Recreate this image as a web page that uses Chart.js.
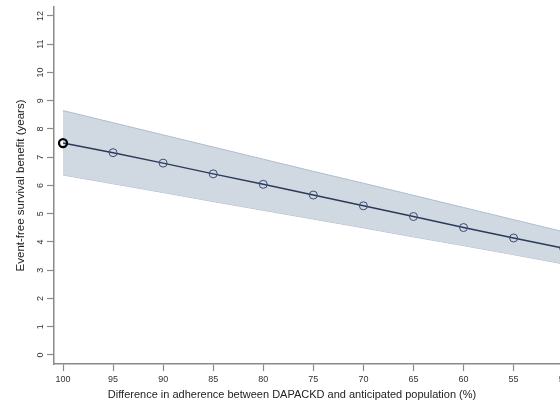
<!DOCTYPE html>
<html>
<head>
<meta charset="utf-8">
<script src="https://cdn.jsdelivr.net/npm/chart.js@4/dist/chart.umd.min.js"></script>
<style>
    html, body { margin: 0; padding: 0; background: #fff; overflow: hidden; }
    #wrap { width: 600px; height: 406px; }
</style>
</head>
<body>
<div id="wrap"><canvas id="chart" width="600" height="406"></canvas></div>
<script>
// adherence difference (%), x axis runs from 100 down to 50
const adherence = [100, 95, 90, 85, 80, 75, 70, 65, 60, 55, 50];
const benefit = [7.50, 7.16, 6.79, 6.41, 6.04, 5.66, 5.28, 4.90, 4.51, 4.14, 3.78];
const upperCI = [8.65, 8.22, 7.79, 7.36, 6.93, 6.50, 6.08, 5.65, 5.22, 4.79, 4.36];
const lowerCI = [6.37, 6.06, 5.75, 5.43, 5.12, 4.81, 4.50, 4.18, 3.87, 3.55, 3.22];

const xTicks = [100, 95, 90, 85, 80, 75, 70, 65, 60, 55, 50];
const yTicks = [0, 1, 2, 3, 4, 5, 6, 7, 8, 9, 10, 11, 12];

const xTitle = 'Difference in adherence between DAPACKD and anticipated population (%)';
const yTitle = 'Event-free survival benefit (years)';

const toPoints = (vals) => adherence.map((x, i) => ({x: x, y: vals[i]}));

const axisGrey = '#8a8a8a';
const fontFamily = '"Liberation Sans", Arial, sans-serif';

const xTitlePlugin = {
    id: 'xTitle',
    afterDraw(chart) {
        const {ctx, chartArea} = chart;
        ctx.save();
        ctx.font = '11px ' + fontFamily;
        ctx.fillStyle = '#222';
        ctx.textAlign = 'center';
        ctx.textBaseline = 'middle';
        ctx.fillText(xTitle, chartArea.left + 238, 395);
        ctx.restore();
    }
};

new Chart(document.getElementById('chart'), {
    type: 'line',
    data: {
        datasets: [
            {
                data: toPoints(benefit),
                borderColor: '#2c3a5a',
                borderWidth: 1.5,
                pointRadius: 4,
                pointBackgroundColor: 'rgba(0,0,0,0)',
                pointBorderColor: (c) => c.dataIndex === 0 ? '#000' : '#3b4a72',
                pointBorderWidth: (c) => c.dataIndex === 0 ? 2.3 : 1,
                fill: false,
            },
            {
                data: toPoints(upperCI),
                borderColor: '#aebdcc',
                borderWidth: 1,
                pointRadius: 0,
                backgroundColor: '#d0d9e2',
                fill: '+1',
            },
            {
                data: toPoints(lowerCI),
                borderColor: '#aebdcc',
                borderWidth: 1,
                pointRadius: 0,
                fill: false,
            },
        ],
    },
    options: {
        responsive: false,
        animation: false,
        layout: {padding: {top: 5, left: 0, right: 0, bottom: 0}},
        scales: {
            x: {
                type: 'linear',
                reverse: true,
                min: 47.0,
                max: 100.9,
                afterBuildTicks: (scale) => { scale.ticks = xTicks.map(v => ({value: v})); },
                afterFit: (scale) => { scale.height = 42; },
                border: {display: true, color: axisGrey, width: 1.5},
                grid: {drawOnChartArea: false, drawTicks: true, tickLength: 7, color: axisGrey, tickWidth: 1.2},
                ticks: {
                    padding: 3,
                    maxRotation: 0,
                    color: '#333',
                    font: {family: fontFamily, size: 9},
                },
            },
            y: {
                min: -0.32,
                max: 12.32,
                afterBuildTicks: (scale) => { scale.ticks = yTicks.map(v => ({value: v})); },
                afterFit: (scale) => { scale.width = 54; },
                border: {display: true, color: axisGrey, width: 1.5},
                grid: {drawOnChartArea: false, drawTicks: true, tickLength: 7, color: axisGrey, tickWidth: 1.2},
                ticks: {
                    minRotation: 90,
                    maxRotation: 90,
                    crossAlign: 'center',
                    padding: 1.5,
                    color: '#333',
                    font: {family: fontFamily, size: 9},
                },
                title: {
                    display: true,
                    text: yTitle,
                    color: '#222',
                    font: {family: fontFamily, size: 11.5},
                    padding: {top: 14, bottom: 0},
                },
            },
        },
        plugins: {
            legend: {display: false},
            tooltip: {enabled: false},
        },
    },
    plugins: [xTitlePlugin],
});
</script>
</body>
</html>
